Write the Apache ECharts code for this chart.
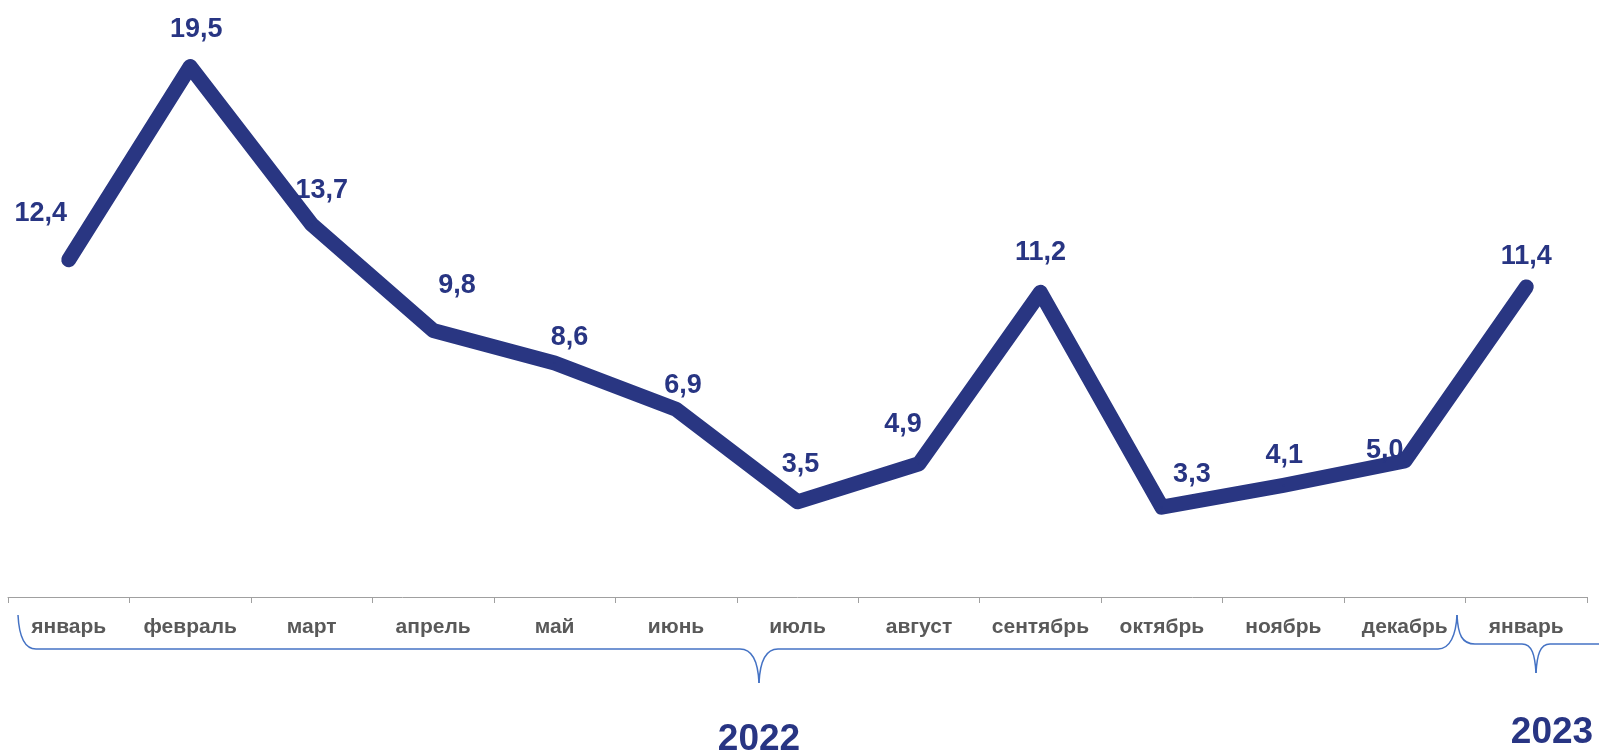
<!DOCTYPE html>
<html>
<head>
<meta charset="utf-8">
<script src="https://cdn.jsdelivr.net/npm/echarts@6/dist/echarts.min.js"></script>
<style>
html,body{margin:0;padding:0;background:#fff;}
#chart{width:1599px;height:756px;}
</style>
</head>
<body>
<div id="chart"></div>
<script>
const categories = ['январь','февраль','март','апрель','май','июнь','июль','август','сентябрь','октябрь','ноябрь','декабрь','январь'];
const values = [12.4, 19.5, 13.7, 9.8, 8.6, 6.9, 3.5, 4.9, 11.2, 3.3, 4.1, 5.0, 11.4];
const yearLabels = ['2022', '2023'];

const labelOffsets = [[-28,-46],[6,-37],[10,-34],[24,-45],[15,-26],[7,-24],[3,-37],[-16,-39],[0,-40],[30,-33],[1,-30],[-20,-10],[0,-30]];

const chart = echarts.init(document.getElementById('chart'));
const blue = '#293682';
const braceStyle = {fill: null, stroke: '#4472C4', lineWidth: 1.5};
function bz(x1,y1,cx1,cy1,cx2,cy2,x2,y2){
  return {type:'bezierCurve', shape:{x1,y1,cpx1:cx1,cpy1:cy1,cpx2:cx2,cpy2:cy2,x2,y2}, style: braceStyle};
}
function ln(x1,y1,x2,y2){
  return {type:'line', shape:{x1,y1,x2,y2}, style: braceStyle};
}
const braces = [
  bz(18,615, 19,635, 24,649, 36,649),
  ln(36,649, 740,649),
  bz(740,649, 752,649, 758,660, 759,683),
  bz(759,683, 760,660, 766,649, 778,649),
  ln(778,649, 1438,649),
  bz(1438,649, 1450,649, 1456,635, 1457,615),
  bz(1457,615, 1458,635, 1462,644, 1475,644),
  ln(1475,644, 1522,644),
  bz(1522,644, 1532,644, 1535,655, 1536,673),
  bz(1536,673, 1537,655, 1540,644, 1550,644),
  ln(1550,644, 1600,644)
];
const option = {
  animation: false,
  grid: {left: 8, right: 12, top: 53, bottom: 159},
  xAxis: {
    type: 'category',
    data: categories,
    boundaryGap: true,
    offset: 5,
    axisLine: {lineStyle: {color: '#a0a0a0', width: 1}},
    axisTick: {show: true, length: 6, alignWithLabel: false, lineStyle: {color: '#a0a0a0'}},
    axisLabel: {color: '#595959', fontWeight: 'bold', fontSize: 21, fontFamily: 'Liberation Sans, Arial', margin: 15, interval: 0}
  },
  yAxis: {type: 'value', min: 0, max: 20, show: false, splitLine: {show: false}},
  series: [{
    type: 'line',
    data: values.map((v, i) => ({
      value: v,
      label: {offset: labelOffsets[i]}
    })),
    symbol: 'circle',
    symbolSize: 2,
    itemStyle: {color: blue},
    lineStyle: {color: blue, width: 15, cap: 'round', join: 'round'},
    label: {
      show: true,
      position: 'inside',
      color: '#283583',
      fontWeight: 'bold',
      fontSize: 27,
      fontFamily: 'Liberation Sans, Arial',
      formatter: p => p.value.toFixed(1).replace('.', ',')
    }
  }],
  graphic: braces.concat([
    {type: 'text', x: 759, y: 740, style: {text: yearLabels[0], fill: '#283583', font: 'bold 37px "Liberation Sans", Arial', textAlign: 'center', textVerticalAlign: 'middle'}},
    {type: 'text', x: 1552, y: 733, style: {text: yearLabels[1], fill: '#283583', font: 'bold 37px "Liberation Sans", Arial', textAlign: 'center', textVerticalAlign: 'middle'}}
  ])
};
chart.setOption(option);
</script>
</body>
</html>
